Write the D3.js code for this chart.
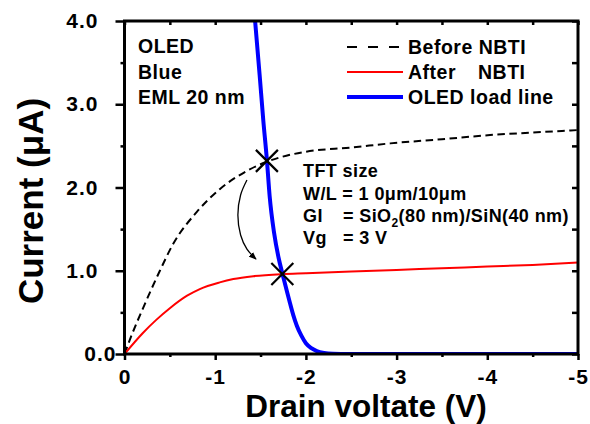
<!DOCTYPE html>
<html>
<head>
<meta charset="utf-8">
<script src="https://cdn.jsdelivr.net/npm/d3@7"></script>
<style>
body{margin:0;background:#fff}
text{font-family:Arial,"Liberation Sans",sans-serif;font-weight:bold;fill:#000}
</style>
</head>
<body>
<script>
// curves: drain voltage (V) and current (uA)
const beforeV=[0,-0.08,-0.2,-0.39,-0.53,-0.8,-1.05,-1.35,-1.57,-1.71,-2.0,-2.5,-2.93,-3.5,-4.03,-4.5,-5];
const beforeI=[0,0.23,0.54,1.0,1.31,1.71,1.98,2.2,2.31,2.36,2.43,2.48,2.53,2.58,2.63,2.66,2.69];

const afterV=[0,-0.2,-0.35,-0.5,-0.69,-0.83,-1.05,-1.2,-1.42,-1.74,-2,-2.5,-3,-3.5,-4,-4.5,-5];
const afterI=[0,0.25,0.41,0.55,0.7,0.78,0.86,0.9,0.935,0.96,0.97,0.99,1.01,1.03,1.05,1.07,1.1];

const oledV=[-1.44,-1.49,-1.53,-1.57,-1.6,-1.65,-1.7,-1.74,-1.78,-1.82,-1.86,-1.9,-1.95,-2.0,-2.06,-2.12,-2.2,-2.3,-2.5,-2.8,-4,-5];
const oledI=[4.0,3.35,2.81,2.33,1.9,1.45,1.15,0.97,0.8,0.63,0.47,0.34,0.22,0.13,0.07,0.035,0.013,0.004,0.001,0,0,0];

// operating points and the arrow between them
const crossV=[-1.57,-1.74];
const crossI=[2.32,0.96];
const arrowV=[-1.35,-1.28,-1.25,-1.28,-1.35,-1.45];
const arrowI=[2.09,1.91,1.67,1.43,1.26,1.14];

const xTicks=[0,-1,-2,-3,-4,-5];
const xMinor=[-0.5,-1.5,-2.5,-3.5,-4.5];
const yTicks=[0,1,2,3,4];
const yMinor=[0.5,1.5,2.5,3.5];

const W=590,H=424;
const m={l:124.5,r:12,t:21,b:70};

const svg=d3.select("body").append("svg").attr("width",W).attr("height",H);

const x=d3.scaleLinear().domain([0,-5]).range([m.l,W-m.r]);
const y=d3.scaleLinear().domain([0,4]).range([H-m.b,m.t]);

svg.append("clipPath").attr("id","plot").append("rect")
  .attr("x",m.l).attr("y",m.t).attr("width",W-m.r-m.l).attr("height",H-m.b-m.t);

function axis(gen,tr,vals,size,fmt,pad){
  const g=svg.append("g").attr("transform",tr)
    .call(gen.tickValues(vals).tickSize(size).tickPadding(pad||3).tickFormat(fmt||""));
  g.select(".domain").remove();
  g.attr("font-size",null).attr("font-family",null);
  g.selectAll("line").attr("stroke","#000").attr("stroke-width",2.5);
  g.selectAll("text").style("font-size","21px").style("letter-spacing","1px")
    .style("font-family","Arial, 'Liberation Sans', sans-serif").style("font-weight","bold");
  return g;
}

const by=y(0);
axis(d3.axisBottom(x),`translate(0,${by})`,xTicks,6,d=>String(d),9);
axis(d3.axisBottom(x),`translate(0,${by})`,xMinor,3);
axis(d3.axisBottom(x),`translate(0,${m.t})`,xTicks.concat(xMinor),4);
const yl=axis(d3.axisLeft(y),`translate(${m.l},0)`,yTicks,9,d=>d.toFixed(1),17);
yl.selectAll(".tick").filter(d=>d===0).select("text").attr("x",-8);
axis(d3.axisLeft(y),`translate(${m.l},0)`,yMinor,4);
axis(d3.axisLeft(y),`translate(${x(-5)},0)`,yTicks.concat(yMinor),6);

const line=d3.line().x(d=>x(d[0])).y(d=>y(d[1])).curve(d3.curveMonotoneX);
const plot=svg.append("g").attr("clip-path","url(#plot)");

plot.append("path").datum(d3.zip(beforeV,beforeI)).attr("d",line)
  .attr("fill","none").attr("stroke","#000").attr("stroke-width",2).attr("stroke-dasharray","7.5,4.5");
plot.append("path").datum(d3.zip(afterV,afterI)).attr("d",line)
  .attr("fill","none").attr("stroke","#ff0000").attr("stroke-width",2);
plot.append("path").datum(d3.zip(oledV,oledI)).attr("d",line)
  .attr("fill","none").attr("stroke","#0000ff").attr("stroke-width",4);

svg.append("rect").attr("x",m.l).attr("y",m.t).attr("width",W-m.r-m.l).attr("height",H-m.b-m.t)
  .attr("fill","none").attr("stroke","#000").attr("stroke-width",3);

svg.selectAll(".cross").data(d3.zip(crossV,crossI)).enter().append("path")
  .attr("transform",d=>`translate(${x(d[0])},${y(d[1])})`)
  .attr("d","M-11,-11L11,11M-11,11L11,-11").attr("stroke","#000").attr("stroke-width",2.2);

svg.append("marker").attr("id","head").attr("viewBox","0 0 10 10").attr("refX",9).attr("refY",5)
  .attr("markerWidth",6).attr("markerHeight",6).attr("orient","auto")
  .append("path").attr("d","M0,1L10,5L0,9z").attr("fill","#000");
svg.append("path").datum(d3.zip(arrowV,arrowI))
  .attr("d",d3.line().x(d=>x(d[0])).y(d=>y(d[1])).curve(d3.curveCatmullRom))
  .attr("fill","none").attr("stroke","#000").attr("stroke-width",1.3).attr("marker-end","url(#head)");

// annotations
const note=svg.append("g").style("font-size","19.5px").style("letter-spacing","0.5px");
["OLED","Blue","EML 20 nm"].forEach((t,i)=>note.append("text").attr("x",138).attr("y",53+i*25.5).text(t));

const leg=svg.append("g");
const legY=[47,72,97];
leg.append("line").attr("x1",347).attr("x2",403).attr("y1",legY[0]).attr("y2",legY[0])
  .attr("stroke","#000").attr("stroke-width",2).attr("stroke-dasharray","10,11");
leg.append("line").attr("x1",347).attr("x2",403).attr("y1",legY[1]).attr("y2",legY[1])
  .attr("stroke","#ff0000").attr("stroke-width",2);
leg.append("line").attr("x1",347).attr("x2",403).attr("y1",legY[2]).attr("y2",legY[2])
  .attr("stroke","#0000ff").attr("stroke-width",4);
const lt=leg.append("g").style("font-size","19.5px").style("letter-spacing","0.5px");
lt.append("text").attr("x",408).attr("y",54).text("Before NBTI");
const af=lt.append("text").attr("x",408).attr("y",79);
af.append("tspan").text("After ");
af.append("tspan").attr("x",478).text("NBTI");
lt.append("text").attr("x",408).attr("y",104).text("OLED load line");

const tft=svg.append("g").style("font-size","18px").style("letter-spacing","0.4px");
tft.append("text").attr("x",303).attr("y",177).text("TFT size");
tft.append("text").attr("x",303).attr("y",200).text("W/L = 1 0\u03bcm/10\u03bcm");
const gi=tft.append("text").attr("x",303).attr("y",222);
gi.append("tspan").text("GI ");
gi.append("tspan").attr("x",343).text("= SiO");
gi.append("tspan").attr("dy",5).style("font-size","12px").text("2");
gi.append("tspan").attr("dy",-5).text("(80 nm)/SiN(40 nm)");
const vg=tft.append("text").attr("x",303).attr("y",244);
vg.append("tspan").text("Vg ");
vg.append("tspan").attr("x",343).text("= 3 V");

svg.append("text").attr("x",366).attr("y",417.3).attr("text-anchor","middle")
  .style("font-size","31.5px").text("Drain voltate (V)");
svg.append("text").attr("transform","translate(43,201) rotate(-90)").attr("text-anchor","middle")
  .style("font-size","35px").text("Current (\u03bcA)");
</script>
</body>
</html>
